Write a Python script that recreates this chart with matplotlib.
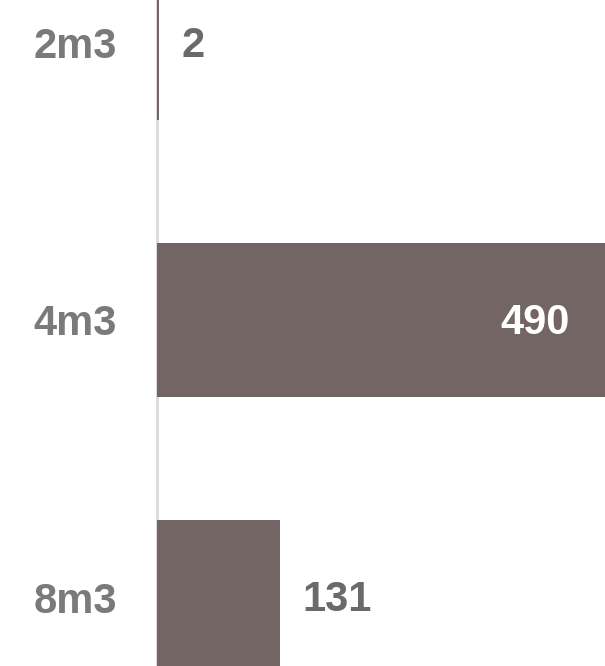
import matplotlib.pyplot as plt

categories = ['2m3', '4m3', '8m3']
values = [2, 490, 131]

bar_color = '#736563'

fig = plt.figure(figsize=(6.05, 6.66), dpi=100)
ax = fig.add_axes([157 / 605, 0, 448 / 605, 1])
plt.rcParams['font.family'] = ['Liberation Sans', 'DejaVu Sans']

pos = list(range(len(categories)))
ax.barh(pos, values, height=0.556, color=bar_color, zorder=3, clip_on=True)

ax.set_xlim(0, 477)
ax.set_ylim(2.249, -0.155)

ax.set_yticks(pos)
ax.set_yticklabels(categories, fontsize=30, fontweight='bold', color='#7a7a7a',
                   family=['Liberation Sans', 'DejaVu Sans'])
ax.tick_params(axis='y', length=0, pad=29)
ax.set_xticks([])

for s in ['top', 'right', 'bottom']:
    ax.spines[s].set_visible(False)
ax.spines['left'].set_color('#dcdcdc')
ax.spines['left'].set_linewidth(2.2)
ax.spines['left'].set_zorder(2)

for p, v in zip(pos, values):
    if v > 400:
        ax.annotate(str(v), xy=(v, p), xytext=(-34, -2.5), textcoords='offset points',
                    ha='right', va='center', fontsize=30, fontweight='bold',
                    color='white', annotation_clip=False, zorder=5,
                    family=['Liberation Sans', 'DejaVu Sans'])
    else:
        ax.annotate(str(v), xy=(v, p), xytext=(16, -2.5), textcoords='offset points',
                    ha='left', va='center', fontsize=30, fontweight='bold',
                    color='#6a6a6a', zorder=5,
                    family=['Liberation Sans', 'DejaVu Sans'])

fig.savefig('out.png', dpi=100)
